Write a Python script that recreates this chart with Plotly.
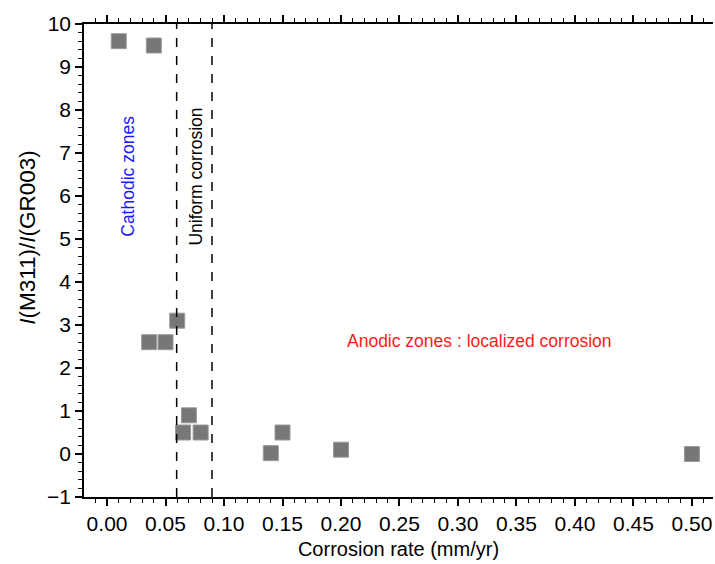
import plotly.graph_objects as go

corrosion_rate = [0.010, 0.040, 0.036, 0.050, 0.060, 0.070, 0.065, 0.080, 0.150, 0.140, 0.200, 0.500]
intensity_ratio = [9.60, 9.50, 2.60, 2.60, 3.10, 0.90, 0.50, 0.50, 0.50, 0.02, 0.10, 0.00]
boundary_lines = [0.0595, 0.0897]
x_ticks = [0.00, 0.05, 0.10, 0.15, 0.20, 0.25, 0.30, 0.35, 0.40, 0.45, 0.50]
y_ticks = [-1, 0, 1, 2, 3, 4, 5, 6, 7, 8, 9, 10]

font_family = "Liberation Sans, Arial, sans-serif"

fig = go.Figure()
fig.add_trace(go.Scatter(
    x=corrosion_rate, y=intensity_ratio, mode="markers",
    marker=dict(symbol="square", size=15, color="#777777",
                line=dict(color="#9a9a9a", width=1)),
    showlegend=False, hoverinfo="x+y"))

for xv in boundary_lines:
    fig.add_shape(type="line", xref="x", yref="paper", x0=xv, x1=xv, y0=0, y1=1,
                  line=dict(color="black", width=1.5, dash="dash"))

fig.add_annotation(x=0.018, y=6.45, text="Cathodic zones", textangle=-90, showarrow=False,
                   font=dict(color="#1a1aff", size=17.5, family=font_family))
fig.add_annotation(x=0.076, y=6.45, text="Uniform corrosion", textangle=-90, showarrow=False,
                   font=dict(color="black", size=17.5, family=font_family))
fig.add_annotation(x=0.318, y=2.63, text="Anodic zones : localized corrosion", showarrow=False,
                   font=dict(color="#ff1a1a", size=17.5, family=font_family))
fig.add_annotation(xref="paper", yref="paper", x=-0.089, y=0.548, xanchor="center", yanchor="middle",
                   text="<i>I</i>(M311)/<i>I</i>(GR003)", textangle=-90, showarrow=False,
                   font=dict(color="black", size=22.5, family=font_family))

fig.update_layout(
    width=715, height=564,
    margin=dict(l=84, r=2, t=24, b=67),
    paper_bgcolor="white", plot_bgcolor="white",
    font=dict(family=font_family, color="black"),
    xaxis=dict(range=[-0.0197, 0.518], tickvals=x_ticks, automargin=False,
               ticktext=[f"{v:.2f}" for v in x_ticks],
               showgrid=False, zeroline=False, showline=True, linecolor="black", linewidth=1.5,
               ticks="outside", ticklen=7, tickwidth=1.5, tickcolor="black", mirror="ticks",
               minor=dict(dtick=0.01, tick0=0, ticks="outside", ticklen=4, tickwidth=1.2, tickcolor="black"),
               tickfont=dict(size=21),
               title=dict(text="Corrosion rate (mm/yr)", font=dict(size=20), standoff=8)),
    yaxis=dict(range=[-1, 10], tickvals=y_ticks, automargin=False,
               showgrid=False, zeroline=False, showline=True, linecolor="black", linewidth=1.5,
               ticks="outside", ticklen=7, tickwidth=1.5, tickcolor="black",
               minor=dict(dtick=0.2, tick0=0, ticks="outside", ticklen=4, tickwidth=1.2, tickcolor="black"),
               tickfont=dict(size=21)),
)

fig.write_html("out.html", config={"displayModeBar": False},
               post_script="document.body.style.margin='0';document.body.style.overflow='hidden';")
